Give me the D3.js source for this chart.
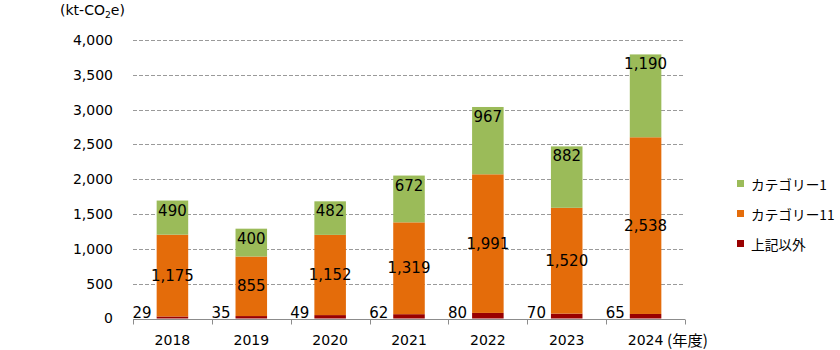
<!DOCTYPE html>
<html>
<head>
<meta charset="utf-8">
<script src="https://cdn.jsdelivr.net/npm/d3@7"></script>
<style>
  html, body { margin: 0; padding: 0; background: #fff; }
  svg { display: block; }
  text { fill: #000; }
</style>
</head>
<body>
<svg id="chart" width="840" height="350"></svg>
<script>
const years = ["2018", "2019", "2020", "2021", "2022", "2023", "2024"];
const otherVals = [29, 35, 49, 62, 80, 70, 65];
const cat11Vals = [1175, 855, 1152, 1319, 1991, 1520, 2538];
const cat1Vals = [490, 400, 482, 672, 967, 882, 1190];
const yTicks = [0, 500, 1000, 1500, 2000, 2500, 3000, 3500, 4000];
const seriesKeys = ["other", "cat11", "cat1"];
const seriesNames = ["上記以外", "カテゴリー11", "カテゴリー1"];
const seriesColors = ["#990000", "#E46C0A", "#9BBB59"];

const numFont = "'DejaVu Sans', 'Noto Sans CJK JP', sans-serif";
const jpFont = "'Noto Sans CJK JP', 'DejaVu Sans', sans-serif";

const svg = d3.select("#chart");
const rows = years.map((y, i) => ({ year: y, other: otherVals[i], cat11: cat11Vals[i], cat1: cat1Vals[i] }));

const x = d3.scaleBand().domain(years).range([133, 685]).paddingInner(0).paddingOuter(0);
const y = d3.scaleLinear().domain([0, 4000]).range([318.5, 40]);
const barW = x.bandwidth() * 0.4;
const fmt = d3.format(",");

function fitSize(sel, base, target) {
  const w = sel.node().getComputedTextLength();
  if (w > 0) sel.attr("font-size", (base * target / w).toFixed(2));
}

// gridlines
svg.append("g").selectAll("line").data(yTicks.filter(d => d > 0)).join("line")
  .attr("x1", 133).attr("x2", 685)
  .attr("y1", d => Math.round(y(d)) + 0.5).attr("y2", d => Math.round(y(d)) + 0.5)
  .attr("stroke", "#9a9a9a").attr("stroke-width", 1).attr("stroke-dasharray", "4,2");

// y axis labels
const yAxis = svg.append("g").attr("transform", "translate(133,0)")
  .call(d3.axisLeft(y).tickValues(yTicks).tickSize(0).tickPadding(20).tickFormat(fmt));
yAxis.select(".domain").remove();
yAxis.selectAll("text").attr("font-family", numFont).attr("font-size", 14).attr("fill", "#000");

// stacked bars
const stacked = d3.stack().keys(seriesKeys)(rows);
stacked.forEach((layer, li) => {
  svg.append("g").selectAll("rect").data(layer).join("rect")
    .attr("x", d => x(d.data.year) + (x.bandwidth() - barW) / 2)
    .attr("width", barW)
    .attr("y", d => y(d[1]))
    .attr("height", d => y(d[0]) - y(d[1]))
    .attr("fill", seriesColors[li]);
});

// x axis
const axisY = 319.5;
svg.append("line").attr("x1", 133).attr("x2", 685).attr("y1", axisY).attr("y2", axisY)
  .attr("stroke", "#8c8c8c").attr("stroke-width", 1);
const edges = years.map(d => x(d)).concat([x.range()[1]]);
svg.append("g").selectAll("line").data(edges).join("line")
  .attr("x1", d => Math.round(d) + 0.5).attr("x2", d => Math.round(d) + 0.5)
  .attr("y1", axisY).attr("y2", axisY + 5)
  .attr("stroke", "#8c8c8c");
const xAxis = svg.append("g").attr("transform", `translate(0,${axisY})`)
  .call(d3.axisBottom(x).tickSize(0).tickPadding(16));
xAxis.select(".domain").remove();
xAxis.selectAll("text").attr("font-family", numFont).attr("font-size", 14).attr("fill", "#000");
const nendo = svg.append("text").attr("x", 667).attr("y", 346).attr("font-family", jpFont).attr("font-size", 14)
  .text("(年度)");
fitSize(nendo, 14, 41);

// data labels
const labG = svg.append("g").attr("font-family", numFont).attr("font-size", 15);
labG.selectAll("text.o").data(stacked[0]).join("text").attr("class", "o")
  .attr("x", d => x(d.data.year) + (x.bandwidth() - barW) / 2 - 5)
  .attr("y", y(0) - 1)
  .attr("text-anchor", "end")
  .text(d => fmt(d.data.other));
labG.selectAll("text.c11").data(stacked[1]).join("text").attr("class", "c11")
  .attr("x", d => x(d.data.year) + x.bandwidth() / 2)
  .attr("y", d => (y(d[0]) + y(d[1])) / 2)
  .attr("text-anchor", "middle").attr("dominant-baseline", "central")
  .text(d => fmt(d.data.cat11));
labG.selectAll("text.c1").data(stacked[2]).join("text").attr("class", "c1")
  .attr("x", d => x(d.data.year) + x.bandwidth() / 2)
  .attr("y", d => y(d[1]) + 10)
  .attr("text-anchor", "middle").attr("dominant-baseline", "central")
  .text(d => fmt(d.data.cat1));

// unit label
const unit = svg.append("text").attr("x", 60).attr("y", 15).attr("font-family", numFont).attr("font-size", 15);
unit.append("tspan").text("(kt-CO");
unit.append("tspan").attr("font-size", "0.66em").attr("dy", 3).text("2");
unit.append("tspan").attr("dy", -3).text("e)");
fitSize(unit, 15, 65);

// legend
const legendOrder = [2, 1, 0];
const lg = svg.append("g");
let legendSize = null;
legendOrder.forEach((si, i) => {
  const cy = 183.5 + i * 30;
  lg.append("rect").attr("x", 737).attr("y", cy - 3.5).attr("width", 7).attr("height", 7).attr("fill", seriesColors[si]);
  const t = lg.append("text").attr("x", 751).attr("y", cy).attr("dominant-baseline", "central")
    .attr("font-family", jpFont).attr("font-size", 14).text(seriesNames[si]);
  if (i === 0) { fitSize(t, 14, 76); legendSize = t.attr("font-size"); }
  else t.attr("font-size", legendSize);
});
</script>
</body>
</html>
